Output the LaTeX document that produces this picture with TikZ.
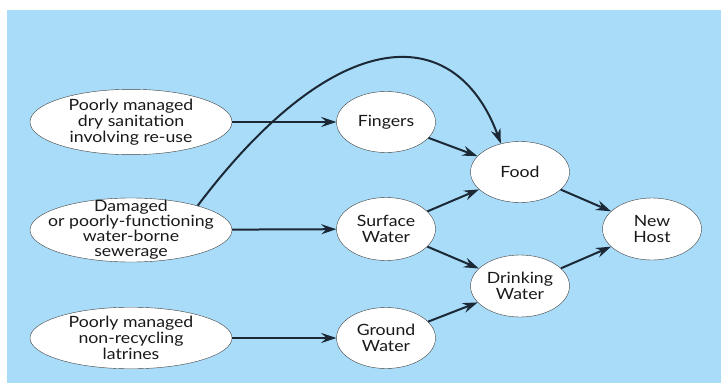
\documentclass[tikz,border=0pt]{standalone}
\usepackage{fontspec}
\setmainfont{Lato}[FakeStretch=1.14]
\usetikzlibrary{arrows.meta,positioning,shapes.geometric}
\definecolor{skyback}{RGB}{168,220,248}
\definecolor{inkline}{RGB}{28,40,54}

\begin{document}
\begin{tikzpicture}[
  x=1pt,y=-1pt,>={Stealth[length=15pt,width=10pt,inset=5pt]},
  blob/.style={ellipse,draw=black!75,thin,fill=white,inner sep=0pt,
    align=center,text=black!90,font=\fontsize{15.5}{16}\selectfont},
  source/.style={blob,minimum width=202,minimum height=60},
  route/.style={blob,minimum width=99,minimum height=61},
  flow/.style={->,draw=inkline,line width=2pt}
]
\useasboundingbox (0,0) rectangle (721,383);
\fill[skyback] (7,10) rectangle (721,383);
\node[source] (dry)    at (131,122) {Poorly managed\\dry sanitation\\involving re-use};
\node[source,minimum height=64,inner xsep=-16pt,inner ysep=-8pt,
  font=\fontsize{15.5}{15}\selectfont] (sewer) at (131,230)
  {Damaged\\or poorly-functioning\\water-borne\\sewerage};
\node[source] (latr)   at (131,338) {Poorly managed\\non-recycling\\latrines};
\node[route]  (finger) at (386,122) {Fingers};
\node[route,minimum height=63] (surf) at (386,229) {Surface\\Water};
\node[route]  (ground) at (386,338) {Ground\\Water};
\node[route]  (food)   at (520,172) {Food};
\node[route,minimum height=62] (drink) at (520,286) {Drinking\\Water};
\node[route,minimum height=62] (host) at (652,229) {New\\Host};
\draw[flow] (dry) -- (finger);
\draw[flow] (sewer) -- (surf);
\draw[flow] (latr) -- (ground);
\draw[flow] (finger) -- (food);
\draw[flow] (surf) -- (food);
\draw[flow] (surf) -- (drink);
\draw[flow] (ground) -- (drink);
\draw[flow] (food) -- (host);
\draw[flow] (drink) -- (host);
\draw[flow] (sewer.20) .. controls (338,20) and (456,22) .. (food.124);
\end{tikzpicture}
\end{document}
